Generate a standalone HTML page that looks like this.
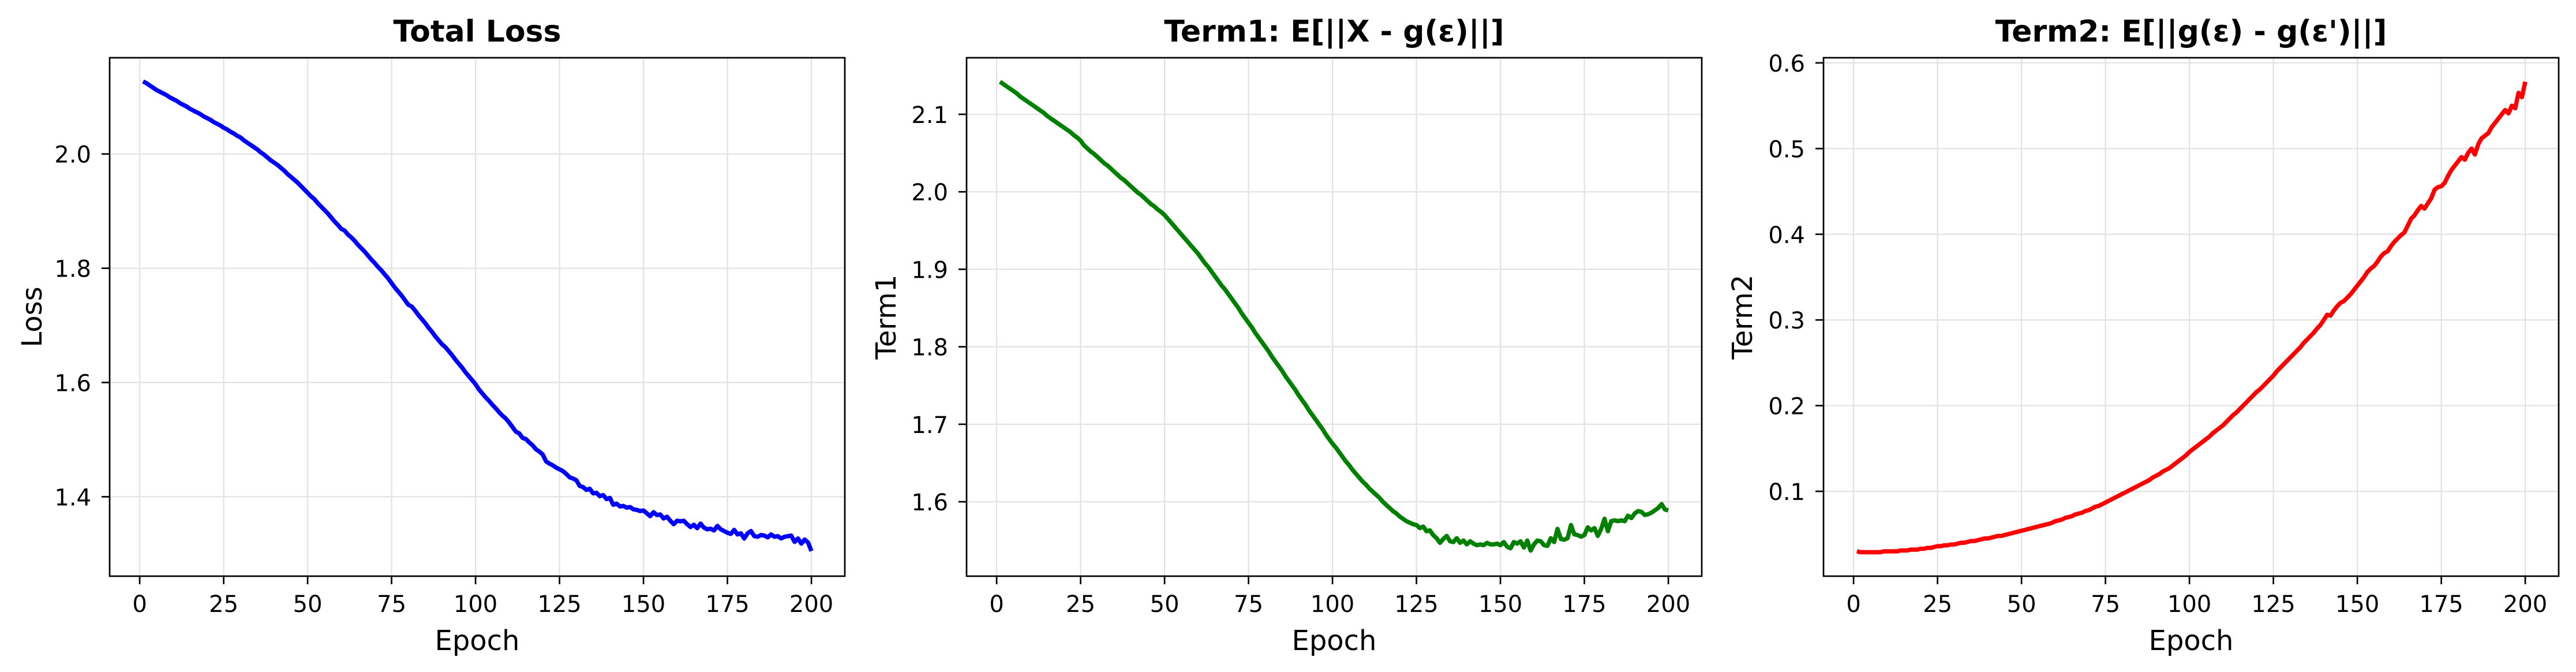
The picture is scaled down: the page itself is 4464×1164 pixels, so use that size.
<!DOCTYPE html>
<html><head><meta charset="utf-8"><style>
html,body{margin:0;padding:0;background:#fff;overflow:hidden;}
svg{display:block;}
text{font-family:"DejaVu Sans","Liberation Sans",sans-serif;fill:#000;}
</style></head><body>
<svg id="fig" width="4464" height="1164" viewBox="0 0 4464 1164" xmlns="http://www.w3.org/2000/svg"></svg>
<script>
const epochTicks = [0,25,50,75,100,125,150,175,200];
const lossTicks = [1.4,1.6,1.8,2.0];
const term1Ticks = [1.6,1.7,1.8,1.9,2.0,2.1];
const term2Ticks = [0.1,0.2,0.3,0.4,0.5,0.6];
const totalLoss = [
2.127,2.124,2.120,2.116,2.112,2.109,2.106,2.103,2.099,2.096,
2.093,2.089,2.086,2.083,2.079,2.076,2.073,2.070,2.066,2.063,
2.060,2.056,2.053,2.050,2.046,2.043,2.039,2.036,2.032,2.029,
2.024,2.020,2.016,2.012,2.008,2.003,1.999,1.994,1.989,1.985,
1.981,1.976,1.971,1.965,1.960,1.955,1.950,1.944,1.938,1.932,
1.926,1.921,1.914,1.908,1.902,1.896,1.889,1.882,1.876,1.869,
1.866,1.859,1.854,1.848,1.841,1.835,1.829,1.822,1.815,1.809,
1.802,1.796,1.789,1.782,1.774,1.766,1.759,1.752,1.744,1.736,
1.733,1.726,1.718,1.711,1.704,1.696,1.689,1.681,1.674,1.667,
1.662,1.655,1.648,1.640,1.633,1.626,1.618,1.611,1.604,1.597,
1.588,1.581,1.574,1.568,1.561,1.555,1.548,1.542,1.537,1.530,
1.522,1.514,1.511,1.503,1.501,1.495,1.490,1.483,1.479,1.474,
1.462,1.458,1.455,1.451,1.448,1.445,1.440,1.434,1.432,1.429,
1.419,1.417,1.412,1.414,1.406,1.407,1.401,1.403,1.396,1.398,
1.386,1.388,1.383,1.384,1.381,1.382,1.378,1.377,1.375,1.376,
1.371,1.366,1.373,1.368,1.369,1.362,1.365,1.358,1.352,1.358,
1.357,1.358,1.352,1.347,1.351,1.345,1.353,1.346,1.343,1.344,
1.341,1.349,1.343,1.340,1.337,1.335,1.342,1.334,1.336,1.327,
1.336,1.340,1.331,1.330,1.333,1.332,1.329,1.334,1.330,1.331,
1.327,1.330,1.331,1.332,1.321,1.327,1.318,1.325,1.320,1.305];
const term1 = [
2.142,2.139,2.136,2.133,2.130,2.127,2.123,2.120,2.117,2.114,
2.111,2.108,2.105,2.102,2.098,2.095,2.092,2.089,2.086,2.083,
2.080,2.077,2.073,2.070,2.066,2.060,2.056,2.052,2.049,2.045,
2.041,2.037,2.034,2.030,2.026,2.022,2.018,2.015,2.011,2.007,
2.003,1.999,1.996,1.992,1.988,1.984,1.981,1.977,1.974,1.970,
1.965,1.960,1.955,1.950,1.945,1.940,1.935,1.930,1.925,1.920,
1.914,1.908,1.903,1.897,1.891,1.885,1.879,1.874,1.868,1.862,
1.856,1.850,1.843,1.837,1.831,1.825,1.818,1.812,1.806,1.800,
1.794,1.787,1.781,1.775,1.769,1.762,1.756,1.750,1.744,1.737,
1.731,1.725,1.718,1.712,1.706,1.700,1.694,1.687,1.681,1.675,
1.670,1.664,1.658,1.652,1.647,1.641,1.636,1.631,1.626,1.622,
1.617,1.613,1.609,1.605,1.600,1.596,1.592,1.588,1.585,1.581,
1.578,1.575,1.573,1.571,1.570,1.566,1.568,1.562,1.563,1.557,
1.553,1.547,1.552,1.556,1.549,1.548,1.553,1.547,1.550,1.545,
1.549,1.546,1.544,1.545,1.544,1.547,1.545,1.545,1.546,1.544,
1.548,1.542,1.540,1.548,1.546,1.549,1.541,1.550,1.537,1.545,
1.550,1.549,1.544,1.543,1.553,1.548,1.565,1.552,1.551,1.553,
1.570,1.558,1.557,1.555,1.557,1.567,1.563,1.566,1.556,1.565,
1.578,1.562,1.575,1.576,1.575,1.576,1.575,1.582,1.579,1.585,
1.588,1.587,1.583,1.584,1.586,1.589,1.592,1.597,1.590,1.589];
const term2 = [
.030,.029,.029,.029,.029,.029,.029,.029,.030,.030,
.030,.030,.030,.031,.031,.031,.032,.032,.032,.033,
.033,.034,.034,.035,.036,.036,.037,.037,.038,.038,
.039,.040,.040,.041,.042,.042,.043,.044,.045,.045,
.046,.047,.048,.048,.049,.050,.051,.052,.053,.054,
.055,.056,.057,.058,.059,.060,.061,.062,.063,.065,
.066,.067,.069,.070,.071,.073,.074,.075,.077,.078,
.080,.082,.083,.085,.087,.089,.091,.093,.095,.097,
.099,.101,.103,.105,.107,.109,.111,.113,.116,.118,
.120,.123,.125,.127,.130,.133,.136,.139,.142,.146,
.149,.152,.155,.158,.161,.164,.168,.171,.174,.177,
.181,.185,.189,.192,.196,.200,.204,.208,.212,.216,
.219,.223,.227,.231,.235,.240,.244,.248,.252,.256,
.260,.264,.268,.273,.277,.281,.285,.290,.294,.300,
.306,.305,.311,.316,.320,.322,.326,.330,.335,.340,
.345,.350,.356,.360,.363,.368,.374,.378,.380,.386,
.391,.395,.399,.402,.410,.418,.422,.428,.433,.430,
.436,.442,.452,.455,.456,.460,.468,.475,.480,.485,
.490,.487,.495,.500,.493,.505,.512,.515,.518,.525,
.530,.535,.540,.545,.541,.550,.547,.565,.560,.578];

const NS = "http://www.w3.org/2000/svg";
const svg = document.getElementById('fig');
function mk(tag, attrs, parent){
  const e = document.createElementNS(NS, tag);
  for (const k in attrs) e.setAttribute(k, attrs[k]);
  (parent||svg).appendChild(e);
  return e;
}
const TOP = 100, BOT = 998;
function panel(cfg){
  const g = mk('g', {});
  
  
  const n = cfg.data.length;
  const xmin = 1 - 0.05*(n-1), xmax = n + 0.05*(n-1);
  const X = v => cfg.L + (v - xmin)/(xmax - xmin)*(cfg.R - cfg.L);
  const Y = v => BOT - (v - cfg.ymin)/(cfg.ymax - cfg.ymin)*(BOT - TOP);
  epochTicks.forEach(t => {
    const l = mk('line', {x1:X(t), x2:X(t), y1:TOP, y2:BOT, stroke:'#e3e3e3', 'stroke-width':2.3}, g);
    
    
  });
  cfg.ticks.forEach(t => {
    const l = mk('line', {x1:cfg.L, x2:cfg.R, y1:Y(t), y2:Y(t), stroke:'#e3e3e3', 'stroke-width':2.3}, g);
    
    
  });
  const pts = cfg.data.map((v,i) => X(i+1).toFixed(2)+','+Y(v).toFixed(2)).join(' ');
  const pl = mk('polyline', {points:pts, fill:'none', stroke:cfg.color, 'stroke-width':7.5, 'stroke-linejoin':'round'}, g);
  
  
  const fr = mk('rect', {x:cfg.L, y:TOP, width:cfg.R-cfg.L, height:BOT-TOP, fill:'none', stroke:'#000', 'stroke-width':2.7}, g);
  
  
  epochTicks.forEach(t => {
    mk('line', {x1:X(t), x2:X(t), y1:BOT, y2:BOT+14, stroke:'#000', 'stroke-width':2.7}, g);
    const tx = mk('text', {x:X(t), y:1060, 'text-anchor':'middle', 'font-size':40}, g);
    
    
    tx.textContent = String(t);
  });
  cfg.ticks.forEach(t => {
    mk('line', {x1:cfg.L-14, x2:cfg.L, y1:Y(t), y2:Y(t), stroke:'#000', 'stroke-width':2.7}, g);
    const tx = mk('text', {x:cfg.L-32, y:Y(t)+15, 'text-anchor':'end', 'font-size':40}, g);
    
    
    tx.textContent = t.toFixed(1);
  });
  const xl = mk('text', {x:(cfg.L+cfg.R)/2, y:1126, 'text-anchor':'middle', 'font-size':48}, g);
  
  
  xl.textContent = 'Epoch';
  const yl = mk('text', {x:0, y:0, 'text-anchor':'middle', 'font-size':48, transform:'translate('+cfg.ylx+','+((TOP+BOT)/2)+') rotate(-90)'}, g);
  
  
  yl.textContent = cfg.ylabel;
  const tt = mk('text', {x:(cfg.L+cfg.R)/2, y:72, 'text-anchor':'middle', 'font-size':52, 'font-weight':'bold'}, g);
  
  
  tt.textContent = cfg.title;
}
panel({name:'total-loss-panel', L:190, R:1464, ymin:1.261, ymax:2.1685, ticks:lossTicks, data:totalLoss, color:'#0000ff', ylabel:'Loss', ylx:72, title:'Total Loss'});
panel({name:'term1-panel', L:1675, R:2949, ymin:1.504, ymax:2.173, ticks:term1Ticks, data:term1, color:'#008000', ylabel:'Term1', ylx:1552, title:'Term1: E[||X - g(ε)||]'});
panel({name:'term2-panel', L:3160, R:4434, ymin:0.001, ymax:0.606, ticks:term2Ticks, data:term2, color:'#ff0000', ylabel:'Term2', ylx:3036, title:"Term2: E[||g(ε) - g(ε')||]"});
</script>
</body></html>
